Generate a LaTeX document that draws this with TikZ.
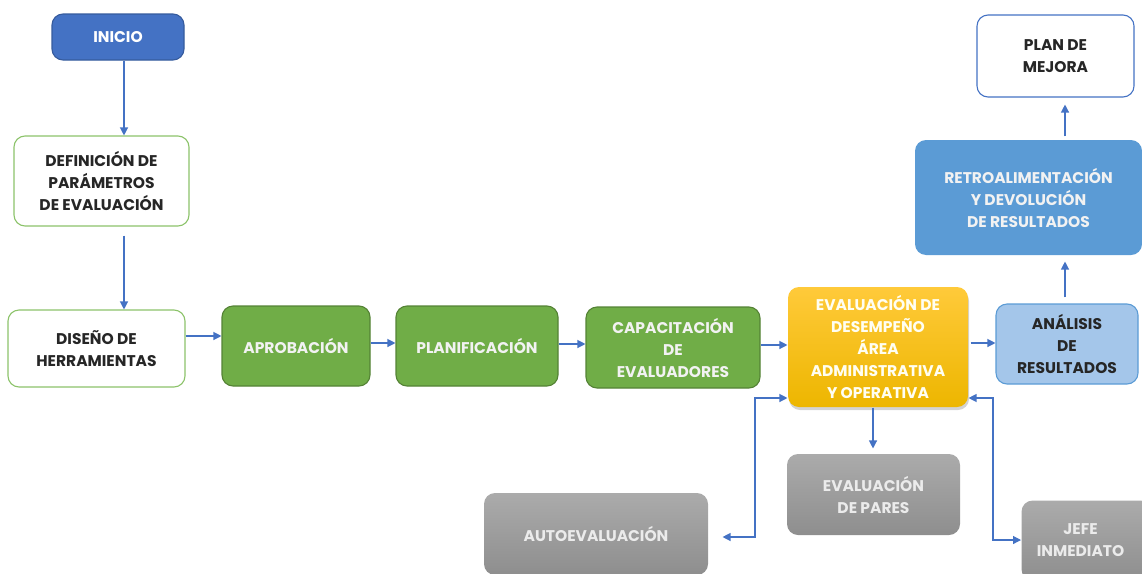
\documentclass[tikz,border=0pt]{standalone}
\usepackage{fontspec}
\setmainfont{Poppins}
\usetikzlibrary{arrows.meta,shadows}
\definecolor{arr}{HTML}{4472C4}
\definecolor{gfill}{HTML}{70AD47}
\definecolor{gdraw}{HTML}{548235}
\definecolor{gline}{HTML}{8CC36A}
\definecolor{bdark}{HTML}{4472C4}
\definecolor{bmid}{HTML}{5B9BD5}
\definecolor{blight}{HTML}{A4C6EA}
\definecolor{ytop}{HTML}{FFCA3A}
\definecolor{ybot}{HTML}{EDB600}
\definecolor{gytop}{HTML}{ABABAB}
\definecolor{gybot}{HTML}{8E8E8E}
\definecolor{txt}{HTML}{262626}
\begin{document}
\begin{tikzpicture}[x=1pt,y=-1pt,
  box/.style={rectangle,rounded corners=11pt,align=center,inner sep=2pt,
    font=\bfseries\fontsize{15.5}{22}\selectfont,line width=1.1pt},
  whitebox/.style={box,draw=gline,fill=white,text=txt},
  greenbox/.style={box,draw=gdraw,fill=gfill,text=white!95!black},
  graybox/.style={box,draw=none,top color=gytop,bottom color=gybot,text=white!92!black},
  flow/.style={draw=arr,line width=1.2pt,-{Triangle[length=8pt,width=8pt]}},
  bothflow/.style={draw=arr,line width=1.2pt,{Triangle[length=8pt,width=8pt]}-{Triangle[length=8pt,width=8pt]}}]
\useasboundingbox (0,0) rectangle (1142,573);
% nodes
\node[box,draw=bdark!80!black,fill=bdark,text=white,minimum width=132,minimum height=46] (inicio) at (118,37) {INICIO};
\node[whitebox,minimum width=175,minimum height=90] (def) at (101.5,181) {DEFINICIÓN DE\\PARÁMETROS\\DE EVALUACIÓN};
\node[whitebox,minimum width=177,minimum height=77] (dis) at (96.5,348.5) {DISEÑO DE\\HERRAMIENTAS};
\node[greenbox,minimum width=148,minimum height=80] (apr) at (296,346) {APROBACIÓN};
\node[greenbox,minimum width=162,minimum height=80] (pla) at (477,346) {PLANIFICACIÓN};
\node[greenbox,minimum width=174,minimum height=81] (cap) at (673,347.5) {CAPACITACIÓN\\DE\\EVALUADORES};
\node[box,draw=none,top color=ytop,bottom color=ybot,text=white!95!yellow,minimum width=180,minimum height=120,
  drop shadow={shadow xshift=1pt,shadow yshift=-3pt,opacity=0.35}] (eval) at (878,347)
  {EVALUACIÓN DE\\DESEMPEÑO\\ÁREA\\ADMINISTRATIVA\\Y OPERATIVA};
\node[box,draw=bmid,fill=blight,text=txt,minimum width=142,minimum height=80] (ana) at (1067,344) {ANÁLISIS\\DE\\RESULTADOS};
\node[box,draw=none,fill=bmid,text=white!95!black,minimum width=227,minimum height=115] (ret) at (1028.5,197.5) {RETROALIMENTACIÓN\\Y DEVOLUCIÓN\\DE RESULTADOS};
\node[box,draw=bdark,fill=white,text=txt,minimum width=157,minimum height=82] (plan) at (1055.5,56) {PLAN DE\\MEJORA};
\node[graybox,minimum width=224,minimum height=82] (auto) at (596,534) {AUTOEVALUACIÓN};
\node[graybox,minimum width=173,minimum height=81] (par) at (873.5,494.5) {EVALUACIÓN\\DE PARES};
\node[graybox,minimum width=130,minimum height=80,anchor=north west] (jefe) at (1021,500) {\hspace*{-12pt}JEFE\\\hspace*{-12pt}INMEDIATO};
% helper coordinates
\coordinate (c1) at (124,0);
\coordinate (c2) at (0,336);
\coordinate (c3) at (0,343);
\coordinate (c4) at (0,344);
\coordinate (c5) at (0,345);
\coordinate (c6) at (0,343);
\coordinate (c7) at (1065,0);
\coordinate (c8) at (873,0);
\coordinate (lt) at (755,398);
\coordinate (lb) at (755,537);
\coordinate (rt) at (993,398);
\coordinate (rb) at (993,540);
% connectors
\draw[flow] (inicio.south -| c1) -- (def.north -| c1);
\draw[flow,shorten <=9pt] (def.south -| c1) -- (dis.north -| c1);
\draw[flow] (dis.east |- c2) -- (apr.west |- c2);
\draw[flow] (apr.east |- c3) -- (pla.west |- c3);
\draw[flow] (pla.east |- c4) -- (cap.west |- c4);
\draw[flow] (cap.east |- c5) -- (eval.west |- c5);
\draw[flow,shorten <=2pt] (eval.east |- c6) -- (ana.west |- c6);
\draw[flow,shorten <=6pt,shorten >=6pt] (ana.north -| c7) -- (ret.south -| c7);
\draw[flow,shorten <=3pt,shorten >=7pt] (ret.north -| c7) -- (plan.south -| c7);
\draw[flow,shorten >=5pt] (eval.south -| c8) -- (par.north -| c8);
\draw[bothflow] (eval.west |- lt) -- (lt) -- (lb) -- ([xshift=14pt]auto.east |- lb);
\draw[bothflow] (eval.east |- rt) -- (rt) -- (rb) -- (jefe.west |- rb);
\end{tikzpicture}
\end{document}
